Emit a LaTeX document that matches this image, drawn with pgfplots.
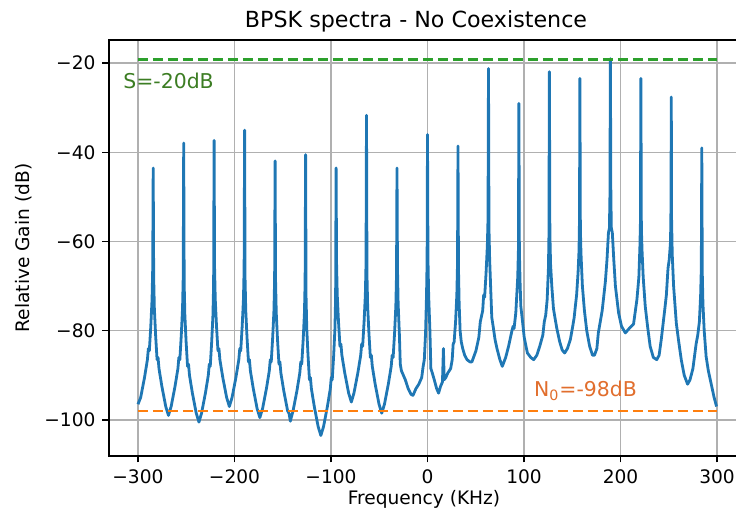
\documentclass[border=0pt]{standalone}
\usepackage{fontspec}
\setmainfont{DejaVu Sans}
\usepackage{pgfplots}
\pgfplotsset{compat=1.18}
\definecolor{C0}{HTML}{1F77B4}
\definecolor{C1}{HTML}{FF7F0E}
\definecolor{C2}{HTML}{2CA02C}
\definecolor{gtext}{RGB}{60,125,35}
\definecolor{otext}{RGB}{225,110,45}
\pgfplotstableread{
x y
-300 -96.5
-297.2 -95
-293.2 -90.5
-290.2 -86.5
-289.2 -84
-288.2 -84.5
-286.7 -79
-285.4 -73
-284.7 -66
-284.2 -43.5
-283.7 -68
-283.0 -75
-281.7 -81
-280.2 -86.5
-279.2 -86
-278.2 -88.5
-275.2 -92.5
-271.2 -97
-268.4 -99
-265.6 -97
-261.6 -92.5
-258.6 -88.5
-257.6 -86
-256.6 -86.5
-255.1 -81
-253.8 -75
-253.1 -68
-252.6 -37.9
-252.1 -69.5
-251.4 -76.5
-250.1 -82.5
-248.6 -88
-247.6 -87.5
-246.6 -90
-243.6 -94
-239.6 -98.5
-236.8 -100.5
-234.1 -98.5
-230.1 -94
-227.1 -90
-226.1 -87.5
-225.1 -88
-223.6 -82.5
-222.3 -76.5
-221.6 -69.5
-221.1 -37.3
-220.6 -66
-219.9 -73
-218.6 -79
-217.1 -84.5
-216.1 -84
-215.1 -86.5
-212.1 -90.5
-208.1 -95
-205.3 -97
-202.5 -95
-198.5 -90.5
-195.5 -86.5
-194.5 -84
-193.5 -84.5
-192.0 -79
-190.7 -73
-190.0 -66
-189.5 -35.0
-189.0 -68.5
-188.3 -75.5
-187.0 -81.5
-185.5 -87
-184.5 -86.5
-183.5 -89
-180.5 -93
-176.5 -97.5
-173.7 -99.5
-170.9 -97.5
-166.9 -93
-163.9 -89
-162.9 -86.5
-161.9 -87
-160.4 -81.5
-159.1 -75.5
-158.4 -68.5
-157.9 -41.9
-157.4 -69
-156.7 -76
-155.4 -82
-153.9 -87.5
-152.9 -87
-151.9 -89.5
-148.9 -93.5
-144.9 -98
-143.4 -98.6
-142.1 -100.3
-140.8 -99.2
-139.3 -98
-135.3 -93.5
-132.3 -89.5
-131.3 -87
-130.3 -87.5
-128.8 -82
-127.5 -76
-126.8 -69
-126.3 -40.5
-125.8 -72.5
-125.1 -79.5
-123.8 -85.5
-122.3 -91
-121.3 -90.5
-120.3 -93
-117.3 -97
-113.3 -101.5
-110.5 -103.5
-107.7 -101.5
-103.7 -97
-100.7 -93
-99.7 -90.5
-98.7 -91
-97.2 -85.5
-95.9 -79.5
-95.2 -72.5
-94.7 -43.5
-94.2 -65
-93.5 -72
-92.2 -78
-90.7 -83.5
-89.7 -83
-88.7 -85.5
-85.7 -89.5
-81.7 -94
-78.9 -96
-76.2 -94
-72.2 -89.5
-69.2 -85.5
-68.2 -83
-67.2 -83.5
-65.7 -78
-64.4 -72
-63.7 -65
-63.2 -31.7
-62.7 -67.5
-62.0 -74.5
-60.7 -80.5
-59.2 -86
-58.2 -85.5
-57.2 -88
-54.2 -92
-50.2 -96.5
-47.4 -98.5
-44.6 -96.5
-40.6 -92
-37.6 -88
-36.6 -85.5
-35.6 -86
-34.1 -80.5
-32.8 -74.5
-32.1 -67.5
-31.6 -43.5
-31.1 -66
-30.4 -74
-29.1 -81
-28.2 -87.5
-27.0 -89
-23.0 -91
-20.0 -93
-17.0 -94.3
-15.0 -94.5
-12.0 -93
-9.0 -92
-6.0 -90.5
-4.5 -88
-3.3 -86.5
-2.0 -80.5
-1.0 -72
-0.4 -64
0 -36
0.5 -64
1.2 -72
2.5 -80
3.5 -88.5
5.0 -89.5
7.0 -91
9.5 -93
11.5 -94
13.5 -92.5
15.5 -91.5
16.5 -84
17.3 -91
19.0 -90.5
21.0 -89.5
24.0 -88.5
25.6 -86.5
26.6 -83
27.6 -82.5
29.1 -78
30.4 -72
31.1 -65
31.6 -38.6
32.1 -66
32.8 -74
33.8 -80
35.0 -82.5
36.5 -84
38.5 -85.5
41.0 -86.5
44.0 -87
46.0 -87
50.2 -84.5
53.2 -81.5
54.7 -78
57.2 -75.5
58.2 -72
59.2 -72.5
60.7 -67
62.0 -61
62.7 -55
63.2 -21.2
63.7 -57
64.4 -64
65.4 -70
66.6 -77
68.0 -79
70.0 -82
72.0 -84
75.0 -86.5
77.5 -88
81.0 -86
84.0 -83.5
87.5 -80
88.7 -79
89.7 -79.5
91.5 -76
93.5 -68
94.2 -62
94.7 -29.0
95.2 -62
95.9 -69
96.7 -74.5
98.5 -78
100.2 -81.5
103.5 -85
107.0 -86
110.0 -86.5
113.3 -85.5
116.3 -83.5
119.5 -81
121.0 -78
122.5 -76.5
124.0 -73
125.3 -66
125.8 -59
126.3 -21.9
126.8 -58
127.5 -65
128.8 -70
130.5 -75
132.0 -77
134.0 -79.5
137.0 -82.5
139.5 -84.3
142.1 -85
145.0 -84
148.0 -82
150.5 -79
152.0 -77
153.2 -74.5
154.5 -72
156.0 -67
157.0 -62
157.5 -55
157.9 -23.4
158.4 -57
159.0 -62.5
160.5 -70
162.6 -75.5
165.0 -80
168.0 -83.5
171.0 -85.5
173.0 -85.5
175.5 -84
177.0 -80.5
181.0 -75.5
184.3 -69
186.0 -64
187.5 -58
188.5 -57
189.0 -50
189.5 -19.0
190.0 -50
190.5 -57
191.5 -58
193.0 -64
194.7 -70
198.0 -76
201.0 -79
205.0 -80.5
209.0 -79.5
213.5 -78.5
217.0 -73
219.0 -68
220.1 -61
220.6 -56
221.1 -23.4
221.6 -57
222.3 -62
223.5 -68
225.6 -74.5
228.0 -79
230.7 -83.5
234.0 -86
237.5 -86.5
240.0 -85.5
242.2 -82
245.7 -75.5
247.5 -72
249.2 -66
250.5 -64
251.8 -60
252.3 -52
252.6 -27.6
252.9 -55
253.6 -63
255.0 -70
257.8 -78.3
260.0 -82
263.0 -86.6
266.0 -90
269.5 -92
272.0 -91
275.0 -88.5
278.3 -83
280.0 -81
281.7 -78
283.0 -72
283.7 -66
284.2 -39.0
284.7 -67
285.4 -74
286.7 -80
288.7 -85.8
291.0 -89
294.0 -92
297.0 -95
299.5 -97
}\spectrum
\begin{document}
\begin{tikzpicture}
\useasboundingbox (-54.5pt,-31pt) rectangle (313.5pt,228pt);
\begin{axis}[
  scale only axis, width=318.5pt, height=208pt,
  xmin=-330, xmax=330, ymin=-108.1, ymax=-14.8,
  xtick={-300,-200,-100,0,100,200,300},
  xticklabels={−300,−200,−100,0,100,200,300},
  ytick={-100,-80,-60,-40,-20},
  yticklabels={−100,−80,−60,−40,−20},
  grid=major, grid style={color=black!31, line width=0.7pt},
  tick align=outside, major tick length=3.25pt, tick pos=left,
  tick style={black, line width=0.7pt},
  axis line style={black, line width=0.75pt},
  ticklabel style={font=\fontsize{9.3}{11}\selectfont},
  title={BPSK spectra - No Coexistence},
  title style={at={(axis description cs:0.482,1)}, anchor=base, yshift=0.5pt, font=\fontsize{11.1}{13}\selectfont},
  xlabel={Frequency (KHz)},
  xlabel style={at={(axis description cs:0.4945,-0.104)}, anchor=center, font=\fontsize{9.3}{11}\selectfont},
  ylabel={Relative Gain (dB)},
  ylabel style={at={(axis description cs:-0.134,0.5)}, rotate=0, anchor=center, font=\fontsize{9.3}{11}\selectfont},
]
\addplot[C0, line width=1.4pt, line join=round, mark=none] table[x=x, y=y] {\spectrum};
\addplot[C2, line width=1.4pt, dash pattern=on 5.2pt off 2.3pt, mark=none] coordinates {(-300,-19.2) (300,-19.2)};
\addplot[C1, line width=1.4pt, dash pattern=on 5.2pt off 2.3pt, mark=none] coordinates {(-300,-98) (300,-98)};
\node[anchor=base west, text=gtext, font=\fontsize{10.2}{12}\selectfont, inner sep=0pt] at (axis cs:-315.5,-25.6) {S=-20dB};
\node[anchor=base west, text=otext, font=\fontsize{10.2}{12}\selectfont, inner sep=0pt] at (axis cs:110,-94.8) {N\textsubscript{0}=-98dB};
\end{axis}
\end{tikzpicture}
\end{document}
